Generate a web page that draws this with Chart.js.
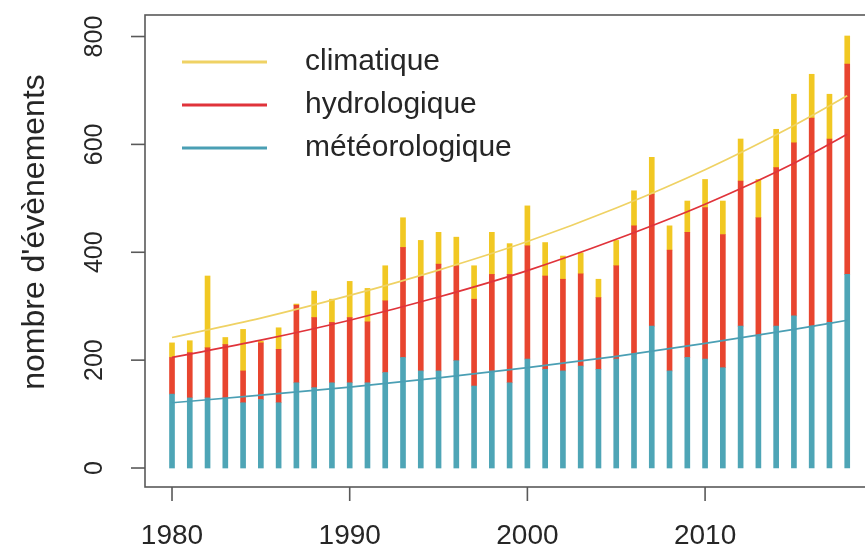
<!DOCTYPE html>
<html>
<head>
<meta charset="utf-8">
<script src="https://cdn.jsdelivr.net/npm/chart.js@4/dist/chart.umd.min.js"></script>
<style>
  html, body { margin: 0; padding: 0; background: #fff; overflow: hidden; }
  #c { display: block; }
</style>
</head>
<body>
<canvas id="c" width="865" height="550"></canvas>
<script>
// ---- data ----
const years = [1980,1981,1982,1983,1984,1985,1986,1987,1988,1989,1990,1991,1992,1993,1994,1995,1996,1997,1998,1999,2000,2001,2002,2003,2004,2005,2006,2007,2008,2009,2010,2011,2012,2013,2014,2015,2016,2017,2018];
const meteo = [137,130,130,130,121,127,121,158,149,158,158,158,177,205,180,180,199,152,180,158,202,183,180,189,183,202,211,263,180,205,202,186,263,245,263,282,263,270,359];
const hydro = [68,84,93,99,59,105,99,144,130,112,121,113,133,204,176,198,176,161,179,201,210,173,170,171,133,173,238,245,224,232,281,247,269,219,294,321,386,340,390];
const clim  = [27,22,133,13,77,3,40,2,49,43,67,62,65,55,66,59,53,62,78,57,74,62,43,39,34,47,65,68,45,58,52,62,78,71,71,90,81,83,52];

// trend curves, read at a few years
const trendYears = [1980,1985,1990,1995,2000,2005,2010,2015,2018];
const trendClim  = [242,278,320,367,420,482,553,635,690];
const trendHydro = [205,237,274,317,366,424,489,565,619];
const trendMeteo = [121,135,150,167,186,207,231,257,274];

const xTicks = [1980,1990,2000,2010];
const yTicks = [0,200,400,600,800];
const legendLabels = ['climatique','hydrologique','météorologique'];
const yTitle = "nombre d'évènements";

// ---- styles ----
const COL_METEO_BAR = '#4ea5b6';
const COL_HYDRO_BAR = '#e8452f';
const COL_CLIM_BAR  = '#f1c823';
const COL_CLIM_LINE  = '#efd264';
const COL_HYDRO_LINE = '#e0333a';
const COL_METEO_LINE = '#4a9fb4';
const FONT = '"Liberation Sans", Arial, sans-serif';
const TEXT = '#262626';

const toXY = (xs, ys) => xs.map((x, i) => ({x: x, y: ys[i]}));

const barDs = (label, vals, color) => ({
  type: 'bar', label: label, data: toXY(years, vals), backgroundColor: color,
  borderWidth: 0, barThickness: 5, stack: 'bars', order: 2
});
const lineDs = (label, ys, color, st) => ({
  type: 'line', label: label, data: toXY(trendYears, ys), borderColor: color,
  borderWidth: 1.7, pointRadius: 0, fill: false, cubicInterpolationMode: 'monotone',
  stack: st, order: 1
});

const frame = {
  id: 'frame',
  afterDraw(chart) {
    const ctx = chart.ctx;
    const xs = chart.scales.x, ys = chart.scales.y;
    const a = chart.chartArea;
    ctx.save();
    // box (right side lies just past the visible canvas)
    const right = xs.getPixelForValue(2019.52);
    ctx.strokeStyle = '#595959';
    ctx.lineWidth = 1.6;
    ctx.strokeRect(a.left, a.top, right - a.left, a.bottom - a.top);
    // y ticks
    ctx.fillStyle = TEXT;
    yTicks.forEach(v => {
      const py = ys.getPixelForValue(v);
      ctx.beginPath(); ctx.moveTo(a.left, py); ctx.lineTo(a.left - 14, py); ctx.stroke();
      ctx.save();
      ctx.translate(95, py);
      ctx.rotate(-Math.PI / 2);
      ctx.font = '25px ' + FONT;
      ctx.textAlign = 'center'; ctx.textBaseline = 'middle';
      ctx.fillText(String(v), 0, 0);
      ctx.restore();
    });
    // x ticks
    xTicks.forEach(v => {
      const px = xs.getPixelForValue(v);
      ctx.beginPath(); ctx.moveTo(px, a.bottom); ctx.lineTo(px, a.bottom + 14); ctx.stroke();
      ctx.font = '28px ' + FONT;
      ctx.textAlign = 'center'; ctx.textBaseline = 'middle';
      ctx.fillText(String(v), px, 536);
    });
    // y title
    ctx.save();
    ctx.translate(35, 232);
    ctx.rotate(-Math.PI / 2);
    ctx.font = '32px ' + FONT;
    ctx.textAlign = 'center'; ctx.textBaseline = 'middle';
    ctx.fillText(yTitle, 0, 0);
    ctx.restore();
    // legend
    const legCols = [COL_CLIM_LINE, COL_HYDRO_LINE, COL_METEO_LINE];
    const legY = [62, 105, 148];
    legendLabels.forEach((t, i) => {
      ctx.strokeStyle = legCols[i];
      ctx.lineWidth = 3;
      ctx.beginPath(); ctx.moveTo(182, legY[i]); ctx.lineTo(267, legY[i]); ctx.stroke();
      ctx.font = '30px ' + FONT;
      ctx.textAlign = 'left'; ctx.textBaseline = 'middle';
      ctx.fillStyle = TEXT;
      ctx.fillText(t, 305, legY[i]);
    });
    ctx.restore();
  }
};

new Chart(document.getElementById('c'), {
  type: 'bar',
  data: {
    datasets: [
      barDs('météorologique', meteo, COL_METEO_BAR),
      barDs('hydrologique', hydro, COL_HYDRO_BAR),
      barDs('climatique', clim, COL_CLIM_BAR),
      lineDs('climatique', trendClim, COL_CLIM_LINE, 't1'),
      lineDs('hydrologique', trendHydro, COL_HYDRO_LINE, 't2'),
      lineDs('météorologique', trendMeteo, COL_METEO_LINE, 't3')
    ]
  },
  options: {
    responsive: false,
    animation: false,
    devicePixelRatio: 1,
    layout: { padding: { left: 145, top: 15, right: 0, bottom: 63 } },
    plugins: { legend: { display: false }, tooltip: { enabled: false } },
    scales: {
      x: { type: 'linear', display: false, min: 1978.48, max: 2019.0, offset: false },
      y: { display: false, stacked: true, min: -35.2, max: 839.9 }
    }
  },
  plugins: [frame]
});
</script>
</body>
</html>
